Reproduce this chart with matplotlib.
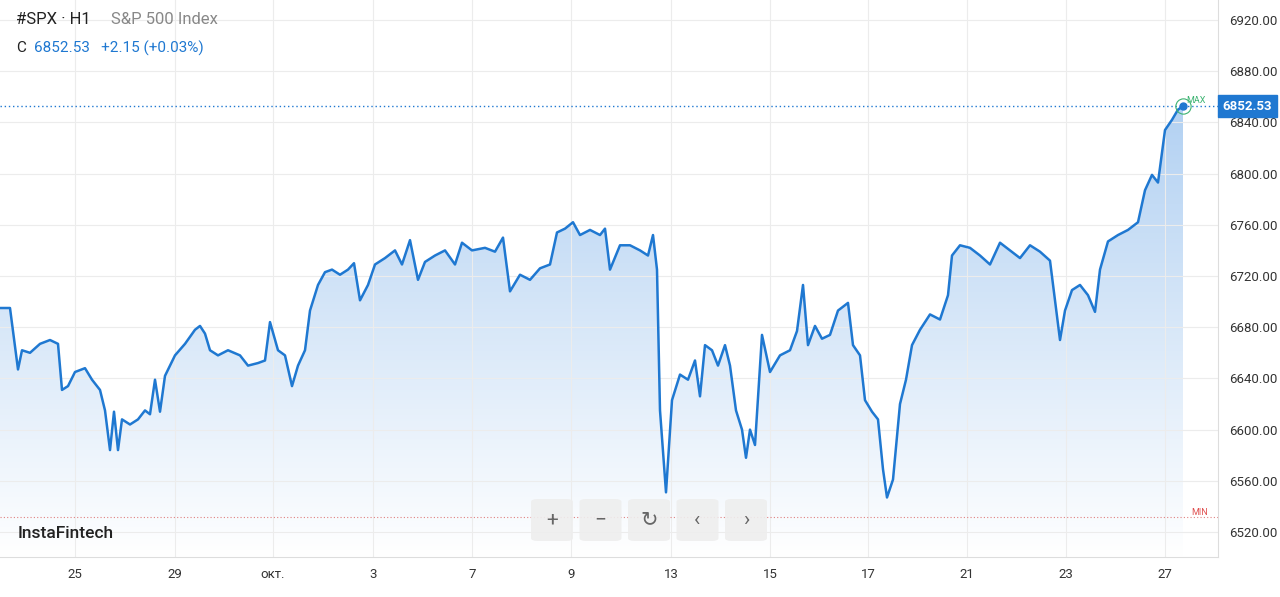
import matplotlib
matplotlib.use("Agg")
import matplotlib.pyplot as plt
from matplotlib.patches import FancyBboxPatch
import numpy as np

# bar position (hourly index units) and close values
pos_px = [0,10,18,22,30,40,50,58,62,68,75,85,92,100,105,110,114,118,122,130,138,145,150,155,160,165,175,185,195,200,205,210,218,228,240,248,258,265,270,278,285,292,298,305,310,318,325,332,340,348,354,360,368,375,385,395,402,410,418,425,435,445,455,462,472,485,495,503,510,520,530,540,550,557,565,573,580,590,600,605,610,620,630,640,648,653,657,660,666,672,680,688,695,700,705,712,718,725,730,736,742,746,750,755,762,770,780,790,797,803,808,815,822,830,838,848,853,860,865,872,878,883,887,893,900,906,912,920,930,940,948,952,960,970,980,990,1000,1010,1020,1030,1040,1050,1055,1060,1065,1072,1080,1088,1095,1100,1108,1118,1128,1138,1145,1152,1158,1165,1172,1178,1183]
values = [6695,6695,6647,6662,6660,6667,6670,6667,6631,6634,6645,6648,6639,6631,6615,6584,6614,6584,6608,6604,6608,6615,6612,6639,6614,6642,6658,6667,6678,6681,6675,6662,6658,6662,6658,6650,6652,6654,6684,6662,6658,6634,6650,6662,6693,6713,6723,6725,6721,6725,6730,6701,6713,6729,6734,6740,6729,6748,6717,6731,6736,6740,6729,6746,6740,6742,6739,6750,6708,6721,6717,6726,6729,6754,6757,6762,6752,6756,6752,6757,6725,6744,6744,6740,6736,6752,6725,6615,6551,6623,6643,6639,6654,6626,6666,6662,6650,6666,6650,6615,6600,6578,6600,6588,6674,6645,6658,6662,6677,6713,6666,6681,6671,6674,6693,6699,6666,6658,6623,6614,6608,6569,6547,6561,6620,6639,6666,6678,6690,6686,6705,6736,6744,6742,6736,6729,6746,6740,6734,6744,6739,6732,6701,6670,6693,6709,6713,6705,6692,6725,6747,6752,6756,6762,6787,6799,6793,6834,6842,6850,6852.53]
x = np.array(pos_px) / 7.0
tick_pos = np.array([75,175,273,373,472,571,671,770,868,967,1066,1165]) / 7.0
tick_labels = ["25","29","окт.","3","7","9","13","15","17","21","23","27"]
yticks = [6520,6560,6600,6640,6680,6720,6760,6800,6840,6880,6920]
last = 6852.53
min_level = 6532

plt.rcParams['font.family'] = ['Roboto', 'DejaVu Sans']
fig = plt.figure(figsize=(12.8, 5.97), dpi=100)
ax = fig.add_axes([0, 1-557/597, 1218/1280, 557/597])
ymin, ymax = 6500.5, 6935.6
ax.set_xlim(0, 1218/7)
ax.set_ylim(ymin, ymax)
blue = "#1f78d1"
# gradient fill
grad = np.linspace(0, 1, 256).reshape(-1, 1)
from matplotlib.colors import LinearSegmentedColormap
cmap = LinearSegmentedColormap.from_list("g", [(1,1,1,1), (0.70,0.82,0.95,1)])
im = ax.imshow(grad, extent=[0, x[-1], ymin, max(values)], origin="lower", cmap=cmap, aspect="auto", zorder=1)
poly = ax.fill_between(x, values, ymin, color="none")
im.set_clip_path(poly.get_paths()[0], transform=ax.transData)
ax.plot(x, values, color=blue, lw=1.8, zorder=3)

ax.set_xticks(tick_pos)
ax.set_xticklabels(tick_labels)
ax.set_yticks(yticks)
ax.set_yticklabels([f"{v:.2f}" for v in yticks])
ax.yaxis.tick_right()
ax.tick_params(axis="both", length=0, labelsize=9.5, colors="#333333", pad=8)
for lbl in ax.get_xticklabels():
    lbl.set_color("#333333")
ax.grid(True, color="#ececec", lw=0.8, zorder=0)
for s in ["top", "left", "right"]:
    ax.spines[s].set_visible(False)
ax.spines["bottom"].set_color("#dddddd")
ax.spines["right"].set_visible(True)
ax.spines["right"].set_color("#dddddd")

ax.axhline(last, color=blue, ls=(0, (1, 2)), lw=1, zorder=2)
ax.axhline(min_level, color="#e08080", ls=(0, (1, 2)), lw=0.8, zorder=2)
ax.plot([x[-1]], [last], "o", color=blue, ms=5, zorder=4)
ax.plot([x[-1]], [last], "o", mfc="none", mec="#3cb371", ms=11, mew=0.8, zorder=4)
ax.text(x[-1]+0.5, last+3, "MAX", color="#3cb371", fontsize=6.5, zorder=4)
ax.text(1208/7, min_level+1.5, "MIN", color="#e05050", fontsize=6.5, ha="right")
ax.text(1.004, (last-ymin)/(ymax-ymin), f"{last:.2f}", transform=ax.transAxes, color="white",
        fontsize=9.5, fontweight="bold", va="center", ha="left",
        bbox=dict(boxstyle="square,pad=0.35", fc=blue, ec=blue), clip_on=False)

fig.text(16/1280, 1-20/597, "#SPX · H1", fontsize=12, color="#222222", va="center")
fig.text(111/1280, 1-20/597, "S&P 500 Index", fontsize=12, color="#888888", va="center")
fig.text(16/1280, 1-48/597, "C", fontsize=11, color="#222222", va="center")
fig.text(34/1280, 1-48/597, "6852.53   +2.15 (+0.03%)", fontsize=11, color=blue, va="center")
fig.text(18/1280, 1-534/597, "InstaFintech", fontsize=12.5, color="#222222", va="center", fontweight="medium")

syms = ["+", "−", "↻", "‹", "›"]
for i, s in enumerate(syms):
    cx = (552 + i*48.5)/1280
    cy = 1-520/597
    w, h = 42/1280, 42/597
    fig.patches.append(FancyBboxPatch((cx-w/2, cy-h/2), w, h, boxstyle="round,pad=0,rounding_size=0.005",
                                      transform=fig.transFigure, fc="#eeeeee", ec="none", alpha=0.9, zorder=5))
    fig.text(cx, cy, s, fontsize=15, color="#666666", ha="center", va="center", zorder=6)

fig.savefig("out.png", dpi=100)
